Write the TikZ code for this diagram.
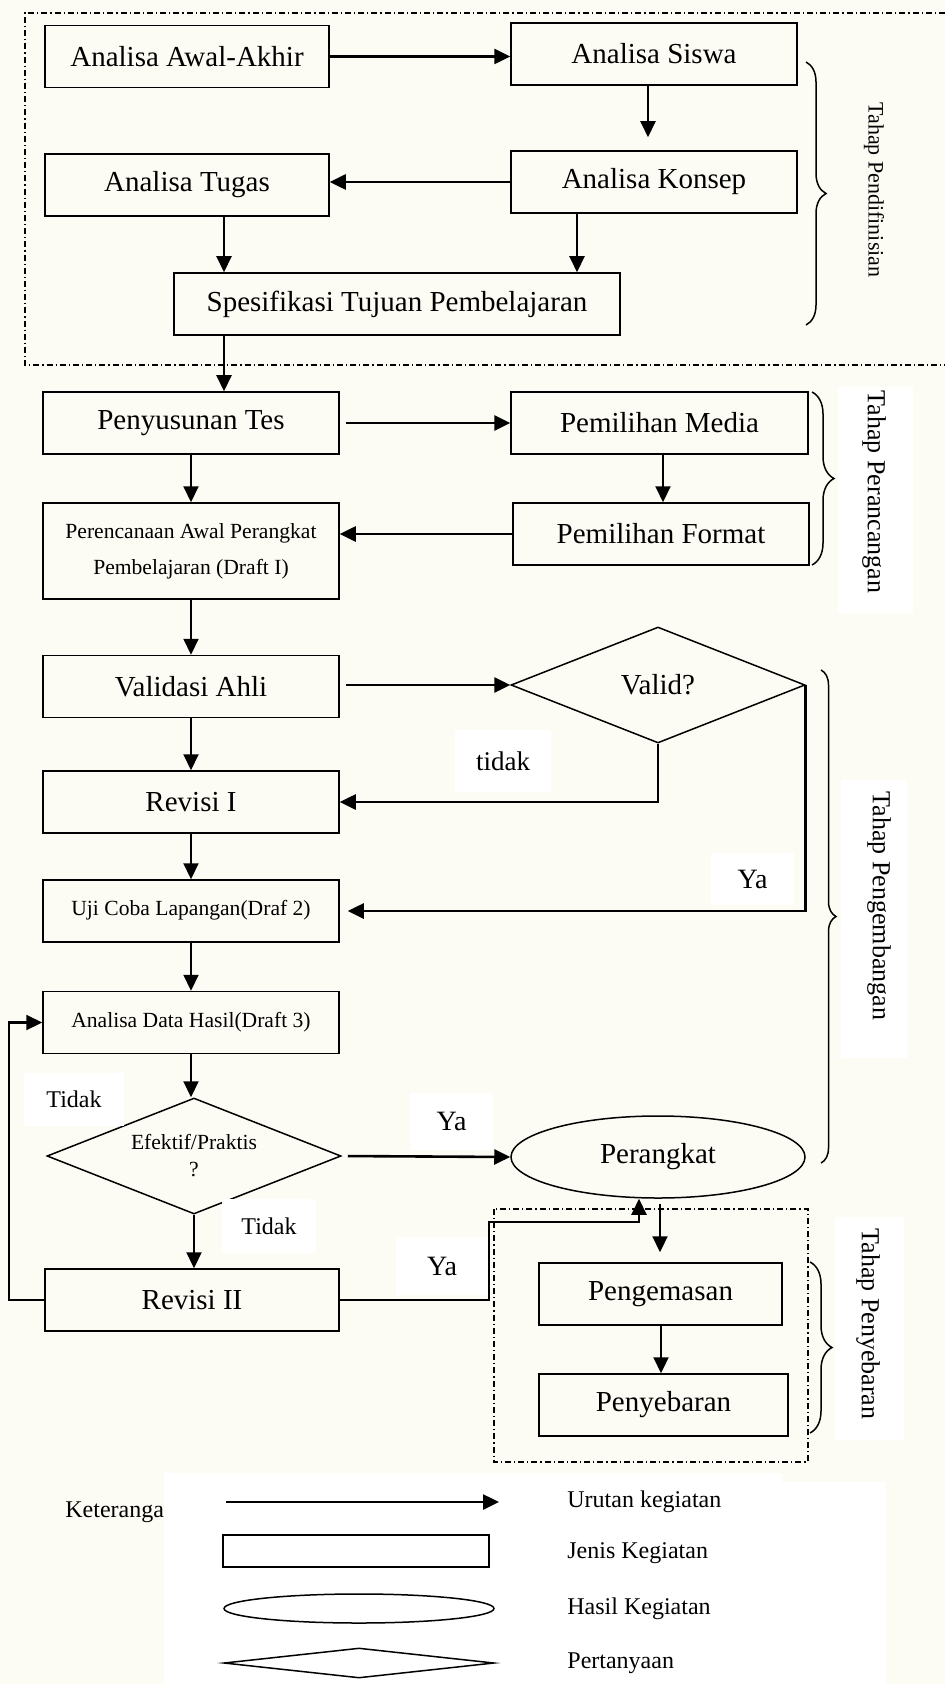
\documentclass[tikz,border=0pt]{standalone}
\usepackage{fontspec}
\setmainfont{Liberation Serif}
\usetikzlibrary{arrows.meta,shapes.geometric,decorations.pathreplacing}
\definecolor{cream}{RGB}{253,252,244}
\newcommand\fmain{\fontsize{14.5}{17}\selectfont}
\newcommand\fsmall{\fontsize{10.8}{13.5}\selectfont}
\newcommand\frenc{\fontsize{10.8}{18}\selectfont}
\newcommand\fstage{\fontsize{13}{15}\selectfont}
\newcommand\fleg{\fontsize{12}{14}\selectfont}
\begin{document}
\begin{tikzpicture}[x=0.5pt,y=-0.5pt,
  procbox/.style={draw, line width=0.75pt, inner sep=0pt, minimum height=31pt, font=\fmain, align=center},
  decis/.style={draw, diamond, aspect=2.53, inner sep=0pt, line width=0.75pt, minimum width=147pt, minimum height=58pt, align=center},
  resnode/.style={draw, ellipse, inner sep=0pt, line width=0.75pt, minimum width=147pt, minimum height=41pt, font=\fmain},
  arr/.style={-{Triangle[length=8pt,width=7.5pt]}, line width=1.05pt},
  wbg/.style={fill=white, inner sep=0pt},
  stage/.style={rotate=-90, font=\fstage, inner sep=0pt},
  brc/.style={decorate, decoration={brace, amplitude=#1}, line width=0.75pt},
  ddot/.style={line width=0.8pt, dash pattern=on 3pt off 1.5pt on 0.6pt off 1.5pt},
  legtxt/.style={anchor=west, font=\fleg, inner sep=0pt}
]
\fill[cream] (0,0) rectangle (945,1684);
\useasboundingbox (0,0) rectangle (945,1684);

% dash-dot frames
\draw[ddot] (945,13) -- (25,13) -- (25,365) -- (945,365);
\draw[ddot] (494,1209) rectangle (808,1462);

% stage background panels
\fill[white] (838,387) rectangle (913,613);
\fill[white] (841,780) rectangle (907,1058);
\fill[white] (835,1217) rectangle (904,1440);

% nodes
\node[procbox, minimum width=142pt] (aaa) at (187,56.5) {Analisa Awal-Akhir};
\node[procbox, minimum width=143pt] (siswa) at (654,54) {Analisa Siswa};
\node[procbox, minimum width=142pt] (tugas) at (187,185) {Analisa Tugas};
\node[procbox, minimum width=143pt] (konsep) at (654,182) {Analisa Konsep};
\node[procbox, minimum width=223pt] (spes) at (397,304) {Spesifikasi Tujuan Pembelajaran};
\node[procbox, minimum width=148pt] (tes) at (191,423) {Penyusunan Tes};
\node[procbox, minimum width=148.5pt] (media) at (659.5,423) {Pemilihan Media};
\node[procbox, minimum width=148pt] (format) at (661,534) {Pemilihan Format};
\node[procbox, minimum width=148pt, minimum height=48pt, font=\frenc] (renc) at (191,551) {Perencanaan Awal Perangkat\\Pembelajaran (Draft I)};
\node[procbox, minimum width=148pt] (valid) at (191,686.5) {Validasi Ahli};
\node[decis, font=\fmain] (dv) at (658,685) {Valid?};
\node[procbox, minimum width=148pt] (rev1) at (191,802) {Revisi I};
\node[procbox, minimum width=148pt, font=\fsmall] (uji) at (191,911) {\raisebox{3pt}{Uji Coba Lapangan(Draf 2)}};
\node[procbox, minimum width=148pt, font=\fsmall] (data) at (191,1022.5) {\raisebox{2.75pt}{Analisa Data Hasil(Draft 3)}};
\node[decis, font=\fsmall] (de) at (194,1156) {Efektif/Praktis\\?};
\node[resnode] (per) at (658,1157) {Perangkat};
\node[procbox, minimum width=147pt] (rev2) at (192,1300) {Revisi II};
\node[procbox, minimum width=121.5pt] (kemas) at (660.5,1294) {Pengemasan};
\node[procbox, minimum width=124.5pt] (sebar) at (663.5,1405) {Penyebaran};

% connectors
\draw[arr, line width=1.3pt] (aaa.east) -- (aaa.east -| siswa.west);
\draw[arr, shorten >=6.5pt] (siswa.south -| 648,0) -- (konsep.north -| 648,0);
\draw[arr, line width=1.3pt] (konsep.west) -- (konsep.west -| tugas.east);
\draw[arr] (tugas.south -| 224,0) -- (spes.north -| 224,0);
\draw[arr] (konsep.south -| 577,0) -- (spes.north -| 577,0);
\draw[arr] (spes.south -| 224,0) -- (tes.north -| 224,0);
\draw[arr, line width=1.3pt, shorten <=3pt] (tes.east) -- (tes.east -| media.west);
\draw[arr] (media.south -| 663,0) -- (format.north -| 663,0);
\draw[arr, line width=1.3pt] (format.west) -- (format.west -| renc.east);
\draw[arr] (tes.south) -- (renc.north);
\draw[arr] (renc.south) -- (valid.north);
\draw[arr, line width=1.3pt, shorten <=3pt] (valid.east |- dv.west) -- (dv.west);
\draw[arr] (valid.south) -- (rev1.north);
\draw[arr, line width=1.3pt] (dv.south) |- (rev1.east);
\draw[arr, line width=1.3pt, shorten >=4pt] (dv.east) |- (uji.east);
\draw[arr] (rev1.south) -- (uji.north);
\draw[arr] (uji.south) -- (data.north);
\draw[arr] (data.south) -- (data.south |- de.north);
\draw[arr, line width=1.3pt, shorten <=3pt] (de.east) -- (per.west);
\draw[arr] (de.south) -- (de.south |- rev2.north);
\draw[arr] (rev2.west) -- (rev2.west -| 9,0) |- (data.west);
\draw[arr] (rev2.east) -- (rev2.east -| 489,0) |- (639,1222) -- (per.south -| 639,0);
\draw[arr, shorten <=2.5pt, shorten >=5pt] (per.south -| 660,0) -- (kemas.north -| 660,0);
\draw[arr] (kemas.south -| 661,0) -- (sebar.north -| 661,0);

% connector labels
\node[wbg, minimum width=48pt, minimum height=31pt, font=\fontsize{13.5}{15}\selectfont] (ltidak) at (503,761) {tidak};
\node[wbg, minimum width=41.5pt, minimum height=26pt, font=\fontsize{14}{16}\selectfont] (lya1) at (752.5,879) {Ya};
\node[wbg, minimum width=50pt, minimum height=26.5pt, font=\fleg] (ltidak1) at (74,1099.5) {Tidak};
\node[wbg, minimum width=41.5pt, minimum height=28.5pt, font=\fontsize{14}{16}\selectfont] (lya2) at (451.5,1121.5) {Ya};
\node[wbg, minimum width=47pt, minimum height=27pt, font=\fleg] (ltidak2) at (269,1226) {Tidak};
\node[wbg, minimum width=46pt, minimum height=29pt, font=\fontsize{14}{16}\selectfont] (lya3) at (442,1266) {Ya};

% braces and stage labels
\draw[brc=10pt] (806,62) -- (806,325);
\draw[brc=11pt] (812,392) -- (812,565);
\draw[brc=7.5pt] (821,670) -- (821,1163);
\draw[brc=11pt] (810,1262) -- (810,1433);
\node[stage, font=\fontsize{11}{13}\selectfont] (s1) at (874,190) {Tahap Pendifinisian};
\node[stage] (s2) at (874,492) {Tahap Perancangan};
\node[stage] (s3) at (879,906) {Tahap Pengembangan};
\node[stage] (s4) at (868,1324) {Tahap Penyebaran};

% legend
\node[legtxt] (ket) at (65,1512) {Keterangan};
\fill[white] (164,1473) rectangle (782,1684);
\fill[white] (782,1482) rectangle (886,1684);
\coordinate (la1) at (226,1502);
\coordinate (la2) at (499,1502);
\draw[arr, line width=1.3pt] (la1) -- (la2);
\node[draw, line width=0.75pt, minimum width=133pt, minimum height=16pt, inner sep=0pt] (lrect) at (356,1551) {};
\node[draw, ellipse, line width=0.75pt, minimum width=135pt, minimum height=14.5pt, inner sep=0pt] (lell) at (359,1608.5) {};
\node[draw, diamond, aspect=9, line width=0.75pt, minimum width=135pt, minimum height=15pt, inner sep=0pt] (ldia) at (359,1663) {};
\node[legtxt] (t1) at (567,1502) {Urutan kegiatan};
\node[legtxt] (t2) at (567,1553) {Jenis Kegiatan};
\node[legtxt] (t3) at (567,1609) {Hasil Kegiatan};
\node[legtxt] (t4) at (567,1663) {Pertanyaan};
\end{tikzpicture}
\end{document}
